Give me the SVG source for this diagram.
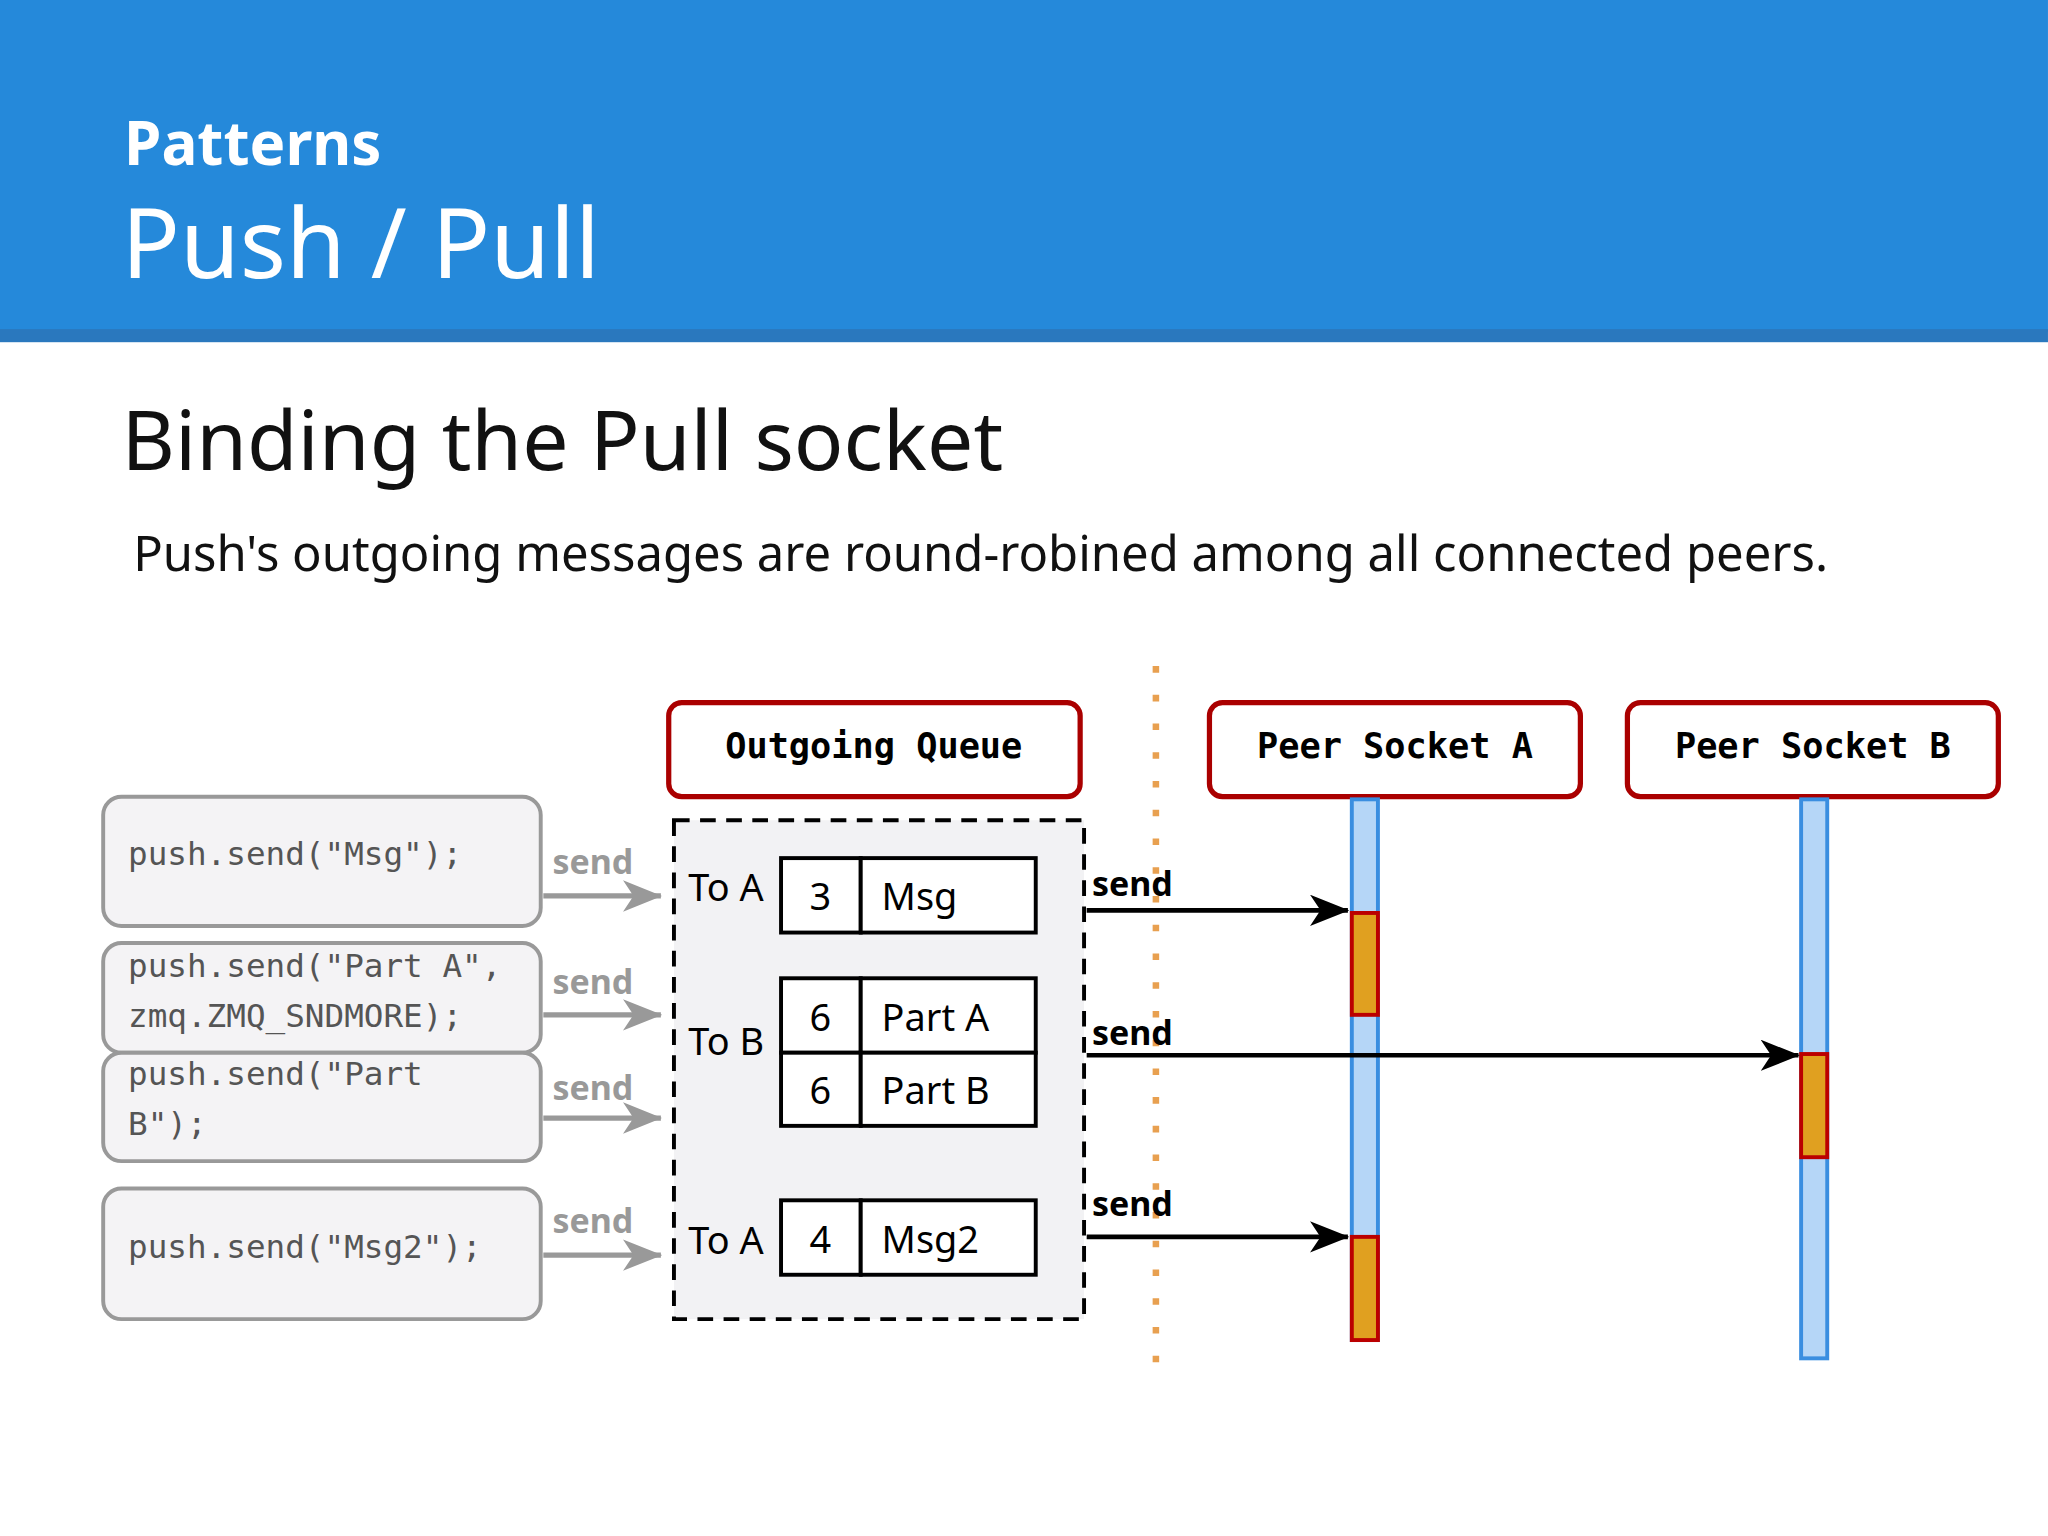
<svg xmlns="http://www.w3.org/2000/svg" width="2048" height="1536" viewBox="0 0 2048 1536">
<style>
.h{font-family:"Noto Sans","Open Sans",sans-serif;fill:#fff}
.t{font-family:"Noto Sans","Open Sans",sans-serif;fill:#111}
.mono{font-family:"DejaVu Sans Mono","Liberation Mono",monospace}
.hd{fill:#fff;stroke:#a00;stroke-width:4}
.code{fill:#f4f3f5;stroke:#999;stroke-width:3}
.ct{font-family:"DejaVu Sans Mono","Liberation Mono",monospace;font-size:25px;fill:#555}
.gs{font-family:"Noto Sans",sans-serif;font-weight:bold;font-size:26px;fill:#999}
.bs{font-family:"Noto Sans",sans-serif;font-weight:bold;font-size:26px;fill:#000}
.cell{fill:#fff;stroke:#000;stroke-width:3}
.ctx{font-family:"Noto Sans",sans-serif;font-size:29px;fill:#000}
.life{fill:#b5d6f7;stroke:#3a8ee0;stroke-width:3}
.act{fill:#e0a020;stroke:#b00;stroke-width:3}
</style>
<defs>
<marker id="ga" markerWidth="30" markerHeight="24" refX="29" refY="12" orient="auto" markerUnits="userSpaceOnUse" viewBox="0 0 30 24"><path d="M0,0 L30,12 L0,24 L8,12z" fill="#999"/></marker>
<marker id="ba" markerWidth="30" markerHeight="24" refX="29" refY="12" orient="auto" markerUnits="userSpaceOnUse" viewBox="0 0 30 24"><path d="M0,0 L30,12 L0,24 L8,12z" fill="#000"/></marker>
</defs>
<g transform="scale(1.3061)">
<rect x="0" y="0" width="1568" height="254" fill="#2589DA"/>
<rect x="0" y="252" width="1568" height="10" fill="#2a78be"/>
<text class="h" x="95" y="126" font-size="46" font-weight="bold">Patterns</text>
<text class="h" x="93" y="213" font-size="74">Push / Pull</text>
<text class="t" x="93" y="360" font-size="63">Binding the Pull socket</text>
<text class="t" x="102" y="437" font-size="37.5">Push's outgoing messages are round-robined among all connected peers.</text>

<line x1="885" y1="510" x2="885" y2="1058" stroke="#e8a050" stroke-width="5" stroke-dasharray="5,17"/>

<g id="queue">
<rect x="516" y="628" width="314" height="382" fill="#f2f2f4" stroke="#000" stroke-width="3" stroke-dasharray="12,8"/>
<text class="ctx" x="527" y="690">To A</text>
<text class="ctx" x="527" y="808">To B</text>
<text class="ctx" x="527" y="960">To A</text>
<rect class="cell" x="598" y="657" width="61" height="57"/><rect class="cell" x="659" y="657" width="134" height="57"/>
<text class="ctx" x="628" y="697" text-anchor="middle">3</text><text class="ctx" x="675" y="697">Msg</text>
<rect class="cell" x="598" y="749" width="61" height="57"/><rect class="cell" x="659" y="749" width="134" height="57"/>
<text class="ctx" x="628" y="789" text-anchor="middle">6</text><text class="ctx" x="675" y="789">Part A</text>
<rect class="cell" x="598" y="806" width="61" height="56"/><rect class="cell" x="659" y="806" width="134" height="56"/>
<text class="ctx" x="628" y="845" text-anchor="middle">6</text><text class="ctx" x="675" y="845">Part B</text>
<rect class="cell" x="598" y="919" width="61" height="57"/><rect class="cell" x="659" y="919" width="134" height="57"/>
<text class="ctx" x="628" y="959" text-anchor="middle">4</text><text class="ctx" x="675" y="959">Msg2</text>
</g>

<g id="hdrQ"><rect class="hd" x="512" y="538" width="315" height="72" rx="10"/><text class="mono" x="669" y="580" font-size="27" font-weight="bold" text-anchor="middle">Outgoing Queue</text></g>
<g id="hdrA"><rect class="hd" x="926" y="538" width="284" height="72" rx="10"/><text class="mono" x="1068" y="580" font-size="27" font-weight="bold" text-anchor="middle">Peer Socket A</text></g>
<g id="hdrB"><rect class="hd" x="1246" y="538" width="284" height="72" rx="10"/><text class="mono" x="1388" y="580" font-size="27" font-weight="bold" text-anchor="middle">Peer Socket B</text></g>

<g id="lifeA"><rect class="life" x="1035" y="612" width="20" height="414"/><rect class="act" x="1035" y="699" width="20" height="78"/><rect class="act" x="1035" y="947" width="20" height="79"/></g>
<g id="lifeB"><rect class="life" x="1379" y="612" width="20" height="428"/><rect class="act" x="1379" y="807" width="20" height="79"/></g>

<g id="c1"><rect class="code" x="79" y="610" width="335" height="99" rx="14"/><text class="ct" x="98" y="662">push.send("Msg");</text></g>
<g id="c2"><rect class="code" x="79" y="722" width="335" height="84" rx="14"/><text class="ct" x="98" y="748">push.send("Part A",</text><text class="ct" x="98" y="786">zmq.ZMQ_SNDMORE);</text></g>
<g id="c3"><rect class="code" x="79" y="806" width="335" height="83" rx="14"/><text class="ct" x="98" y="831">push.send("Part</text><text class="ct" x="98" y="869">B");</text></g>
<g id="c4"><rect class="code" x="79" y="910" width="335" height="100" rx="14"/><text class="ct" x="98" y="963">push.send("Msg2");</text></g>

<g id="connectors">
<g stroke="#999" stroke-width="4" fill="none">
<line x1="416" y1="686" x2="506" y2="686" marker-end="url(#ga)"/>
<line x1="416" y1="777" x2="506" y2="777" marker-end="url(#ga)"/>
<line x1="416" y1="856" x2="506" y2="856" marker-end="url(#ga)"/>
<line x1="416" y1="961" x2="506" y2="961" marker-end="url(#ga)"/>
</g>
<text class="gs" x="423" y="669">send</text><text class="gs" x="423" y="761">send</text><text class="gs" x="423" y="842">send</text><text class="gs" x="423" y="944">send</text>
<g stroke="#000" stroke-width="3.5" fill="none">
<line x1="832" y1="697" x2="1032" y2="697" marker-end="url(#ba)"/>
<line x1="832" y1="808" x2="1377" y2="808" marker-end="url(#ba)"/>
<line x1="832" y1="947" x2="1032" y2="947" marker-end="url(#ba)"/>
</g>
<text class="bs" x="836" y="686">send</text><text class="bs" x="836" y="800">send</text><text class="bs" x="836" y="931">send</text>
</g>
</g>
</svg>
